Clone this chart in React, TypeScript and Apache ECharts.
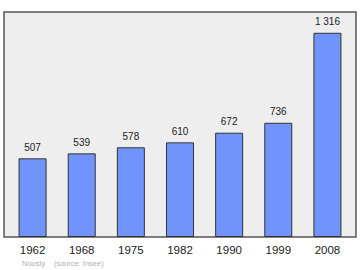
import React, { useEffect, useRef } from "react";
import * as echarts from "echarts";

const years = ["1962", "1968", "1975", "1982", "1990", "1999", "2008"];
const population = [507, 539, 578, 610, 672, 736, 1316];
const footerText = "Nousty    (source: Insee)";

const FONT = "Liberation Sans, Arial, sans-serif";

const fmt = (v: number) => {
  const s = String(v);
  return s.length > 3 ? s.slice(0, s.length - 3) + " " + s.slice(-3) : s;
};

export default function App() {
  const ref = useRef<HTMLDivElement>(null);
  useEffect(() => {
    if (!ref.current) return;
    const chart = echarts.init(ref.current, null, { renderer: "svg" });
    chart.setOption({
      animation: false,
      backgroundColor: "#ffffff",
      textStyle: { fontFamily: FONT },
      graphic: [
        {
          type: "rect",
          z: -10,
          shape: { x: 4, y: 12, width: 352, height: 225 },
          style: { fill: "#eeeeee", stroke: "#555555", lineWidth: 1.5 },
        },
        {
          type: "text",
          x: 22,
          y: 259,
          style: {
            text: footerText,
            fill: "#b0b0b0",
            fontSize: 7.5,
            fontFamily: FONT,
          },
        },
      ],
      grid: { left: 8, right: 8, top: 12, bottom: 33 },
      xAxis: {
        type: "category",
        data: years,
        axisLine: { show: false },
        axisTick: { show: false },
        axisLabel: { color: "#222222", fontSize: 11.5, margin: 7, fontFamily: FONT },
      },
      yAxis: {
        type: "value",
        min: 0,
        max: 1450,
        show: false,
        splitLine: { show: false },
      },
      series: [
        {
          type: "bar",
          data: population,
          barWidth: 28,
          itemStyle: {
            color: "#7094fc",
            borderColor: "#333333",
            borderWidth: 1,
          },
          label: {
            show: true,
            position: "top",
            distance: 6,
            fontSize: 10,
            color: "#222222",
            fontFamily: FONT,
            formatter: (p: any) => fmt(p.value),
          },
        },
      ],
    });
    return () => chart.dispose();
  }, []);
  return (
    <div
      ref={ref}
      style={{ position: "fixed", left: 0, top: 0, width: 360, height: 270 }}
    />
  );
}
